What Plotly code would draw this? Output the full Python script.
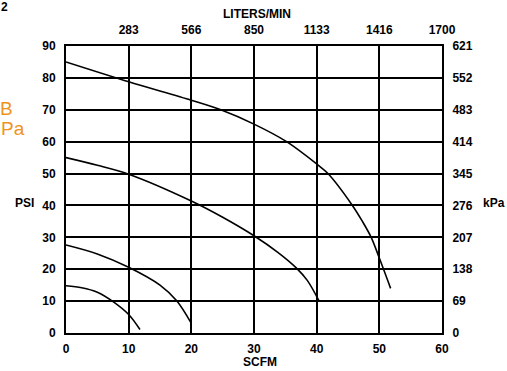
import plotly.graph_objects as go

# ---- data ----
scfm_ticks = [0, 10, 20, 30, 40, 50, 60]
psi_ticks = [0, 10, 20, 30, 40, 50, 60, 70, 80, 90]
lpm_ticks = [10, 20, 30, 40, 50, 60]
lpm_labels = ["283", "566", "850", "1133", "1416", "1700"]
kpa_labels = ["0", "69", "138", "207", "276", "345", "414", "483", "552", "621"]

curve1_x = [0, 10, 20, 24.7, 30, 35.2, 40, 41.8, 45.7, 47.3, 48.7, 50, 51.8]
curve1_y = [85, 78.8, 73.0, 70, 65.5, 60, 53, 50, 40, 35, 30, 23.5, 14]

curve2_x = [0, 5, 10, 20, 25, 30, 33.8, 36.7, 38.5, 40.4]
curve2_y = [55, 52.6, 49.8, 41.4, 36.3, 30.5, 25.3, 20.5, 16.5, 10]

curve3_x = [0, 5, 10, 15, 17.7, 20]
curve3_y = [27.6, 24.8, 20.6, 15, 10, 3]

curve4_x = [0, 2.5, 5, 7.4, 10, 11.8]
curve4_y = [14.8, 14.2, 12.8, 10, 5.8, 1.1]

FONT = "Liberation Sans, Arial, sans-serif"
ORANGE = "#EE931E"

fig = go.Figure()
for cx, cy in [(curve1_x, curve1_y), (curve2_x, curve2_y),
               (curve3_x, curve3_y), (curve4_x, curve4_y)]:
    fig.add_trace(go.Scatter(x=cx, y=cy, mode="lines",
                             line=dict(color="black", width=1.6, shape="spline", smoothing=0.9),
                             showlegend=False, hoverinfo="skip"))

# dummy traces to activate secondary axes
fig.add_trace(go.Scatter(x=[None], y=[None], xaxis="x2", yaxis="y", showlegend=False))
fig.add_trace(go.Scatter(x=[None], y=[None], xaxis="x", yaxis="y2", showlegend=False))

tick_font = dict(family=FONT, size=12, color="black", weight="bold")

fig.update_layout(
    width=507, height=371,
    margin=dict(l=66, r=65, t=46, b=38),
    paper_bgcolor="white", plot_bgcolor="white",
    xaxis=dict(range=[0, 60], tickvals=scfm_ticks, ticktext=[str(v) for v in scfm_ticks],
               showgrid=True, gridcolor="black", gridwidth=1.6,
               showline=True, linecolor="black", linewidth=2,
               ticks="outside", ticklen=4, tickcolor="rgba(0,0,0,0)",
               tickfont=tick_font, zeroline=False, fixedrange=True),
    xaxis2=dict(range=[0, 60], overlaying="x", side="top", tickvals=lpm_ticks, ticktext=lpm_labels,
                showgrid=False, showline=True, linecolor="black", linewidth=2,
                ticks="outside", ticklen=5, tickcolor="rgba(0,0,0,0)",
                tickfont=tick_font, zeroline=False, fixedrange=True),
    yaxis=dict(range=[0, 90], tickvals=psi_ticks, ticktext=[str(v) for v in psi_ticks],
               showgrid=True, gridcolor="black", gridwidth=1.6,
               showline=True, linecolor="black", linewidth=2,
               ticks="outside", ticklen=6, tickcolor="rgba(0,0,0,0)",
               tickfont=tick_font, zeroline=False, fixedrange=True),
    yaxis2=dict(range=[0, 90], overlaying="y", side="right", tickvals=psi_ticks, ticktext=kpa_labels,
                showgrid=False, showline=True, linecolor="black", linewidth=2,
                ticks="outside", ticklen=6, tickcolor="rgba(0,0,0,0)",
                tickfont=tick_font, zeroline=False, fixedrange=True),
)

# annotations placed by pixel position (converted to paper coordinates)
pw = 507 - 66 - 65
ph = 371 - 46 - 38


def px(xp, yp):
    return (xp - 66) / pw, (371 - yp - 38) / ph


labels = [
    ("LITERS/MIN", 257, 14, tick_font),
    ("SCFM", 260, 362, tick_font),
    ("PSI", 24, 203, tick_font),
    ("kPa", 494, 203, tick_font),
    ("2", 4, 7, tick_font),
    ("B", 6, 108, dict(family=FONT, size=19, color=ORANGE)),
    ("Pa", 13, 128, dict(family=FONT, size=19, color=ORANGE)),
]
for text, xp, yp, f in labels:
    ax, ay = px(xp, yp)
    fig.add_annotation(text=text, x=ax, y=ay, xref="paper", yref="paper", showarrow=False,
                       xanchor="center", yanchor="middle", font=f)

fig.write_html("out.html", config={"displayModeBar": False},
               post_script="document.body.style.margin='0';document.body.style.overflow='hidden';")
